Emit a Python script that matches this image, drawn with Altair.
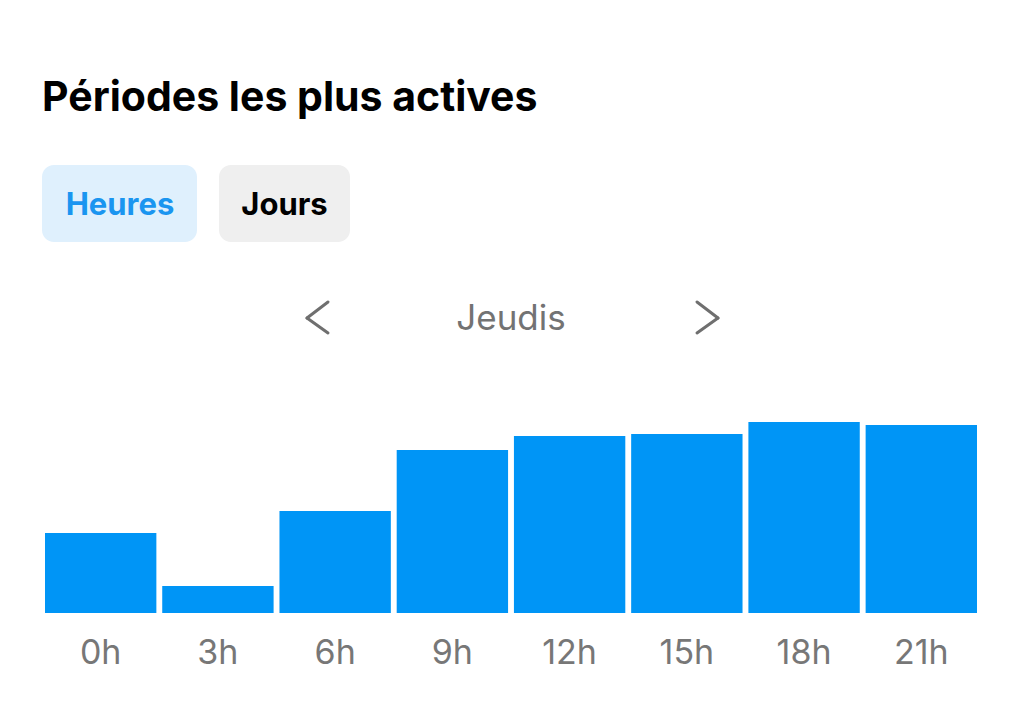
import altair as alt
import pandas as pd

hours = ["0h", "3h", "6h", "9h", "12h", "15h", "18h", "21h"]
activity = [80, 27, 102, 163, 177, 179, 191, 188]

title_text = ["Périodes les plus actives"]
tab_labels = ["Heures", "Jours"]
day_label = ["Jeudis"]

FONT = "Inter"
BLUE = "#0095F6"

df = pd.DataFrame({"hour": hours, "value": activity})

bars = alt.Chart(df).mark_bar(color=BLUE).encode(
    x=alt.X("hour:N", sort=hours,
            scale=alt.Scale(paddingInner=0.05, paddingOuter=0),
            axis=alt.Axis(title=None, labelAngle=0, domain=False, ticks=False,
                          labelFontSize=34, labelColor="#777777", labelFont=FONT,
                          labelPadding=23, grid=False)),
    y=alt.Y("value:Q", scale=alt.Scale(domain=[0, 213]), axis=None),
)

one = pd.DataFrame({"k": [0]})

def txt(t, x, y, size, color, weight="normal", align="left"):
    return alt.Chart(one).mark_text(
        text=t, font=FONT, fontSize=size, color=color, fontWeight=weight,
        align=align, baseline="middle"
    ).encode(x=alt.value(x), y=alt.value(y))

def rect(x, x2, y, y2, color):
    return alt.Chart(one).mark_rect(color=color, cornerRadius=12).encode(
        x=alt.value(x), x2=alt.value(x2), y=alt.value(y), y2=alt.value(y2))

def seg(x, y, x2, y2):
    return alt.Chart(one).mark_rule(color="#6f6f6f", strokeWidth=3, strokeCap="round").encode(
        x=alt.value(x), x2=alt.value(x2), y=alt.value(y), y2=alt.value(y2))

title = txt(title_text[0], -3, -301, 41, "#000000", "bold")
btn1 = rect(-3, 152, -235, -158, "#DFF0FD")
btn2 = rect(174, 305, -235, -158, "#EFEFEF")
t1 = txt(tab_labels[0], 75, -194, 31, "#1A95F0", "bold", "center")
t2 = txt(tab_labels[1], 239.5, -194, 31, "#000000", "bold", "center")
day = txt(day_label[0], 466, -81, 35, "#737373", "normal", "center")
chev = [seg(283, -98, 262, -82), seg(262, -82, 283, -67),
        seg(652, -98, 673, -82), seg(673, -82, 652, -67)]

chart = alt.layer(btn1, btn2, bars, title, t1, t2, day, *chev).properties(
    width=932, height=213,
    padding={"left": 45, "top": 400, "right": 47, "bottom": 95},
    autosize=alt.AutoSizeParams(type="none"),
    background="white",
).configure_view(stroke=None)

chart.save("out.html", embed_options={"renderer": "svg", "actions": False})
